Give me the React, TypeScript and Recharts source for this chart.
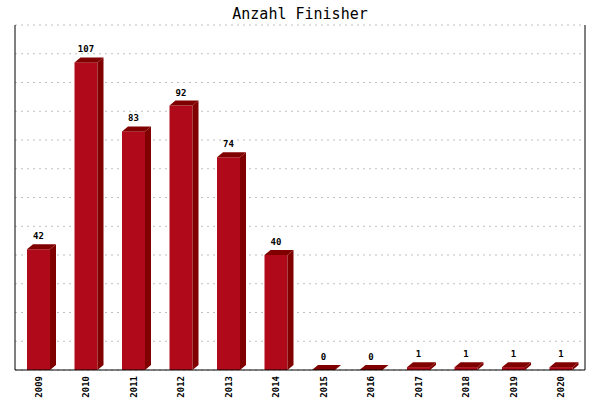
import React from 'react';
import { BarChart, Bar, XAxis, YAxis, CartesianGrid, LabelList } from 'recharts';

const years = ['2009', '2010', '2011', '2012', '2013', '2014', '2015', '2016', '2017', '2018', '2019', '2020'];
const finishers = [42, 107, 83, 92, 74, 40, 0, 0, 1, 1, 1, 1];
const yTicks = [0, 10, 20, 30, 40, 50, 60, 70, 80, 90, 100, 110, 120];

const data = years.map((year, i) => ({ year, value: finishers[i] }));

const FRONT = '#B00A1A';
const DARK = '#800000';
const DX = 6;
const DY = 5;
const MONO = '"DejaVu Sans Mono", "Liberation Mono", monospace';

const Bar3D = (props: any) => {
  const { x, y, width, height } = props;
  if (x == null || y == null) return null;
  const base = y + height;
  return (
    <g>
      {height > 0 && <rect x={x} y={y} width={width} height={height} fill={FRONT} />}
      <polygon
        points={`${x},${y} ${x + DX},${y - DY} ${x + width + DX},${y - DY} ${x + width},${y}`}
        fill={DARK}
      />
      {height > 0 && (
        <polygon
          points={`${x + width},${y} ${x + width + DX},${y - DY} ${x + width + DX},${base - DY} ${x + width},${base}`}
          fill={DARK}
        />
      )}
    </g>
  );
};

const YearTick = ({ x, y, payload }: any) => (
  <text
    x={x}
    y={y - 2}
    transform={`rotate(-90, ${x}, ${y - 2})`}
    textAnchor="end"
    dominantBaseline="central"
    fontFamily={MONO}
    fontSize={9}
    fontWeight="bold"
    fill="#000"
  >
    {payload.value}
  </text>
);

const NoTick = () => null;

const ValueLabel = ({ x, y, width, value }: any) => (
  <text
    x={x + width / 2}
    y={y - 10}
    textAnchor="middle"
    fontFamily={MONO}
    fontSize={9}
    fontWeight="bold"
    fill="#000"
  >
    {value}
  </text>
);

export default function App() {
  return (
    <div style={{ position: 'absolute', left: 0, top: 0, width: 600, height: 400, background: '#fff' }}>
      <div
        style={{
          position: 'absolute',
          top: 5,
          width: 600,
          textAlign: 'center',
          fontFamily: MONO,
          fontSize: 15,
          color: '#000',
        }}
      >
        Anzahl Finisher
      </div>
      <BarChart width={600} height={400} data={data} margin={{ top: 25, right: 14, left: 14, bottom: 0 }}>
        <CartesianGrid vertical={false} stroke="#C0C0C0" strokeDasharray="2 4" />
        <XAxis
          dataKey="year"
          interval={0}
          tickLine={false}
          axisLine={{ stroke: '#000', strokeWidth: 1 }}
          tick={<YearTick />}
          height={30}
        />
        <YAxis
          type="number"
          domain={[0, 120]}
          ticks={yTicks}
          interval={0}
          width={1}
          tick={<NoTick />}
          tickLine={false}
          axisLine={{ stroke: '#000', strokeWidth: 1 }}
        />
        <YAxis
          yAxisId="r"
          orientation="right"
          domain={[0, 120]}
          ticks={yTicks}
          width={1}
          tick={<NoTick />}
          tickLine={false}
          axisLine={{ stroke: '#000', strokeWidth: 1 }}
        />
        <Bar dataKey="value" barSize={23} shape={<Bar3D />} isAnimationActive={false}>
          <LabelList dataKey="value" content={<ValueLabel />} />
        </Bar>
      </BarChart>
    </div>
  );
}
